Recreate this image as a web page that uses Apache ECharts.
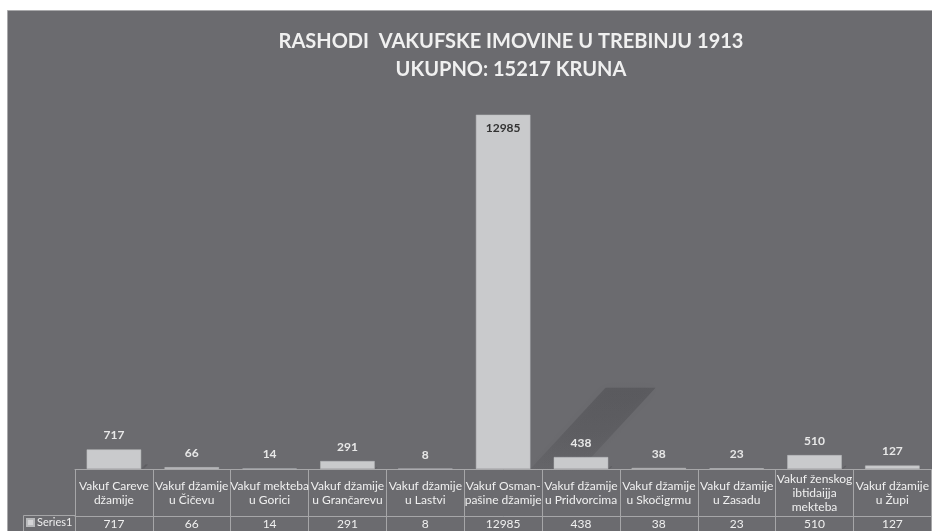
<!DOCTYPE html>
<html>
<head>
<meta charset="utf-8">
<script src="https://cdn.jsdelivr.net/npm/echarts@6/dist/echarts.min.js"></script>
<style>
html,body{margin:0;padding:0;background:#fff;}
#chart{width:932px;height:531px;}
</style>
</head>
<body>
<div id="chart"></div>
<script>
const titleText = 'RASHODI  VAKUFSKE IMOVINE U TREBINJU 1913\nUKUPNO: 15217 KRUNA';
const categories = [
  'Vakuf Careve\ndžamije',
  'Vakuf džamije\nu Čičevu',
  'Vakuf mekteba\nu Gorici',
  'Vakuf džamije\nu Grančarevu',
  'Vakuf džamije\nu Lastvi',
  'Vakuf Osman-\npašine džamije',
  'Vakuf džamije\nu Pridvorcima',
  'Vakuf džamije\nu Skočigrmu',
  'Vakuf džamije\nu Zasadu',
  'Vakuf ženskog\nibtidaijja\nmekteba',
  'Vakuf džamije\nu Župi'
];
const values = [717, 66, 14, 291, 8, 12985, 438, 38, 23, 510, 127];
const seriesName = 'Series1';

const FONT = 'Lato, "Open Sans", sans-serif';
const LINE = '#a6a6a8';
const maxVal = Math.max(...values);

const chart = echarts.init(document.getElementById('chart'), null, {renderer: 'canvas'});

const barData = values.map(v => v === maxVal
  ? {value: v, label: {position: 'insideTop', color: '#333', distance: 7}}
  : v);

const option = {
  backgroundColor: '#ffffff',
  animation: false,
  title: {
    text: titleText,
    left: 511,
    top: 28,
    padding: 0,
    textAlign: 'center',
    textStyle: {color: '#f0f0f0', fontSize: 20, fontWeight: 'bold', fontFamily: FONT, lineHeight: 28}
  },
  legend: {
    show: true,
    left: 26,
    top: 517,
    padding: 0,
    itemWidth: 7,
    itemHeight: 7,
    itemGap: 4,
    icon: 'rect',
    textStyle: {color: '#eeeeee', fontSize: 11, fontFamily: FONT, padding: [0,0,0,-2]},
    data: [{name: seriesName, itemStyle: {color: '#d4d4d6'}}]
  },
  grid: {left: 75, right: 0, top: 87, bottom: 62},
  xAxis: [
    {
      type: 'category',
      data: categories,
      position: 'bottom',
      axisLine: {show: true, lineStyle: {color: LINE, width: 1}},
      axisTick: {show: true, length: 62, interval: 0, lineStyle: {color: LINE, width: 1}},
      axisLabel: {interval: 0, color: '#f0f0f0', fontSize: 12, lineHeight: 14, margin: 24,
                  verticalAlign: 'middle', fontFamily: FONT}
    },
    {
      type: 'category',
      data: values.map(String),
      position: 'bottom',
      offset: 47,
      axisLine: {show: true, lineStyle: {color: LINE, width: 1}},
      axisTick: {show: false},
      axisLabel: {interval: 0, color: '#f0f0f0', fontSize: 12, margin: 8,
                  verticalAlign: 'middle', fontFamily: FONT}
    }
  ],
  yAxis: {type: 'value', min: 0, max: 14000, show: false, splitLine: {show: false}},
  series: [{
    name: seriesName,
    type: 'bar',
    xAxisIndex: 0,
    data: barData,
    barWidth: '70%',
    itemStyle: {color: '#c9cacc', borderColor: '#b9babc', borderWidth: 0.5},
    label: {show: true, position: 'top', distance: 8, color: '#e8e8e8', fontSize: 12,
            fontWeight: 'bold', fontFamily: FONT},
    z: 3
  }],
  graphic: [
    {type: 'rect', z: -100, silent: true,
     shape: {x: 7.5, y: 10.5, width: 930, height: 530},
     style: {fill: '#6b6b6f', stroke: '#a9a9ab', lineWidth: 1}},
    {type: 'polyline', z: 10, silent: true,
     shape: {points: [[23.5, 531], [23.5, 515.5], [75, 515.5]]},
     style: {stroke: LINE, lineWidth: 1, fill: null}}
  ]
};
chart.setOption(option);

// perspective shadows cast by the bars, derived from the axis scale
const shadows = [];
values.forEach((v, i) => {
  const base = chart.convertToPixel({seriesIndex: 0}, [i, 0]);
  const top = chart.convertToPixel({seriesIndex: 0}, [i, v]);
  const step = chart.convertToPixel({xAxisIndex: 0}, 1) - chart.convertToPixel({xAxisIndex: 0}, 0);
  const bw = step * 0.7;
  const right = base[0] + bw / 2;
  const h = (base[1] - top[1]) * 0.229;
  const k = h / 81;
  shadows.push({
    type: 'polygon', z: -50, silent: true,
    shape: {points: [[right, base[1]], [right + 75 * k, base[1] - h], [right + 125 * k, base[1] - h], [right + 50 * k, base[1]]]},
    style: {
      fill: {type: 'linear', x: 0, y: 0, x2: 0, y2: 1, colorStops: [
        {offset: 0, color: 'rgba(40,40,44,0.22)'},
        {offset: 0.6, color: 'rgba(40,40,44,0.16)'},
        {offset: 1, color: 'rgba(40,40,44,0.08)'}
      ]},
      shadowBlur: 10, shadowColor: 'rgba(40,40,44,0.25)'
    }
  });
});
chart.setOption({graphic: option.graphic.concat(shadows)});
</script>
</body>
</html>
